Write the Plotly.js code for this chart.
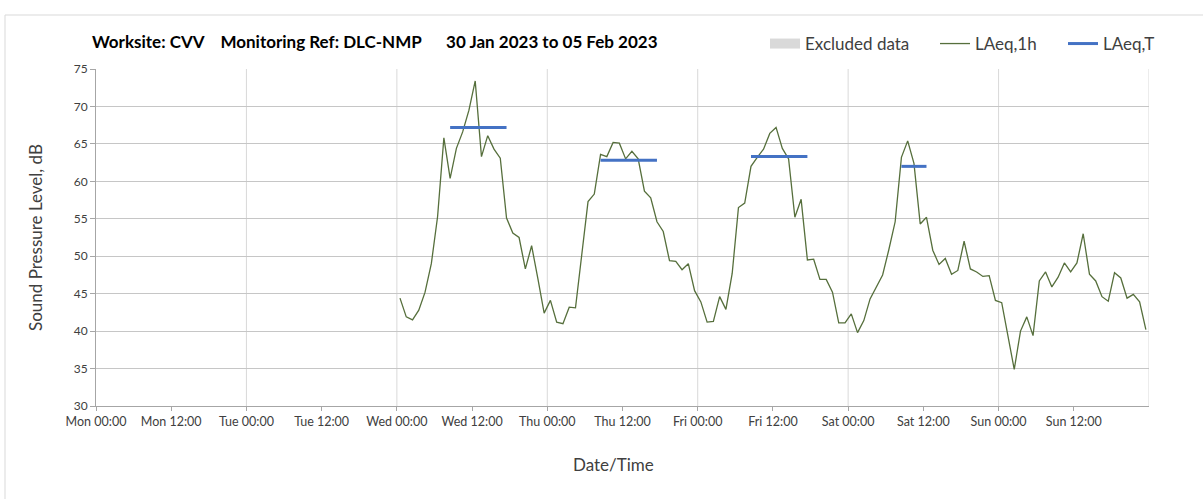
<!DOCTYPE html>
<html>
<head>
<meta charset="utf-8">
<script src="https://cdn.plot.ly/plotly-3.0.1.min.js"></script>
<style>
html,body{margin:0;padding:0;background:#fff;}
#chart{width:1203px;height:499px;}
</style>
</head>
<body>
<div id="chart"></div>
<script>
// ---- data ----
// hourly LAeq,1h values, first value at Wed 01 Feb 2023 00:30, one per hour
const firstHour = '2023-02-01T00:30:00Z';
const laeq1h = [
  44.4, 41.9, 41.5, 42.8, 45.2, 49.0, 55.3, 65.8, 60.4, 64.4,
  66.6, 69.5, 73.4, 63.3, 66.1, 64.3, 63.1, 55.1, 53.1, 52.5,
  48.3, 51.4, 47.0, 42.4, 44.1, 41.2, 41.0, 43.2, 43.1, 50.5,
  57.3, 58.3, 63.6, 63.3, 65.2, 65.1, 63.0, 64.0, 63.0, 58.7,
  57.8, 54.6, 53.3, 49.4, 49.3, 48.2, 49.0, 45.4, 43.9, 41.2,
  41.3, 44.6, 42.9, 47.7, 56.5, 57.1, 62.0, 63.2, 64.3, 66.4,
  67.2, 64.4, 63.0, 55.2, 57.6, 49.5, 49.6, 46.9, 46.9, 45.2,
  41.1, 41.1, 42.3, 39.8, 41.4, 44.3, 45.8, 47.5, 50.9, 54.6,
  63.2, 65.4, 62.4, 54.3, 55.2, 50.8, 48.9, 49.7, 47.6, 48.1,
  52.0, 48.3, 47.9, 47.3, 47.4, 44.1, 43.8, 39.2, 34.9, 40.0,
  41.9, 39.4, 46.7, 47.9, 45.9, 47.2, 49.1, 47.9, 49.1, 53.0,
  47.6, 46.7, 44.6, 44.0, 47.8, 47.1, 44.4, 44.9, 43.9, 40.2
];
// LAeq,T periods
const laeqTStart = ['2023-02-01 08:30', '2023-02-02 08:30', '2023-02-03 08:30', '2023-02-04 08:30'];
const laeqTEnd   = ['2023-02-01 17:30', '2023-02-02 17:30', '2023-02-03 17:30', '2023-02-04 12:30'];
const laeqTValue = [67.2, 62.8, 63.3, 62.0];
// excluded data (no excluded values in this period -> empty/null level)
const excludedX = ['2023-01-30 00:00'];
const excludedY = [null];
// axis
const weekStart = '2023-01-30 00:00';
const weekEnd = '2023-02-06 00:00';
const xTickVals = [
  '2023-01-30 00:00', '2023-01-30 12:00', '2023-01-31 00:00', '2023-01-31 12:00',
  '2023-02-01 00:00', '2023-02-01 12:00', '2023-02-02 00:00', '2023-02-02 12:00',
  '2023-02-03 00:00', '2023-02-03 12:00', '2023-02-04 00:00', '2023-02-04 12:00',
  '2023-02-05 00:00', '2023-02-05 12:00'
];
const dayBoundaries = ['2023-01-31', '2023-02-01', '2023-02-02', '2023-02-03', '2023-02-04', '2023-02-05', '2023-02-06'];
const yTickVals = [30, 35, 40, 45, 50, 55, 60, 65, 70, 75];

const titleText = 'Worksite: CVV\u00a0\u00a0\u00a0 Monitoring Ref: DLC-NMP\u00a0\u00a0\u00a0\u00a0\u00a0 30 Jan 2023 to 05 Feb 2023';

// ---- build ----
const t0 = Date.parse(firstHour);
const hourTimes = laeq1h.map((v, i) =>
  new Date(t0 + i * 3600000).toISOString().slice(0, 16).replace('T', ' '));

const tx = [], ty = [];
laeqTStart.forEach((s, i) => {
  tx.push(s, laeqTEnd[i], null);
  ty.push(laeqTValue[i], laeqTValue[i], null);
});

const FONT = 'Lato, "Open Sans", sans-serif';
const W = 1203, H = 499;

const traces = [
  {
    type: 'scatter', mode: 'lines', name: 'Excluded data', x: excludedX, y: excludedY,
    line: {color: '#d9d9d9', width: 10}, legend: 'legend', showlegend: true, hoverinfo: 'skip'
  },
  {
    type: 'scatter', mode: 'lines', name: 'LAeq,1h', x: hourTimes, y: laeq1h,
    line: {color: '#566f3c', width: 1.3}, legend: 'legend2'
  },
  {
    type: 'scatter', mode: 'lines', name: 'LAeq,T', x: tx, y: ty,
    line: {color: '#4472c4', width: 3}, legend: 'legend3', connectgaps: false
  }
];

const shapes = dayBoundaries.map(d => ({
  type: 'line', xref: 'x', yref: 'paper', x0: d, x1: d, y0: 0, y1: 1,
  line: {color: '#d9d9d9', width: 1}, layer: 'below'
}));
// outer chart frame
shapes.push({
  type: 'rect', xref: 'paper', yref: 'paper',
  x0: (5 - 96) / 1053, x1: 1.08, y0: -0.4, y1: (406 - 15) / 337,
  line: {color: '#d9d9d9', width: 1}, fillcolor: 'rgba(0,0,0,0)', layer: 'below'
});

const legendBase = {
  orientation: 'h', xref: 'container', yref: 'container',
  yanchor: 'middle', y: 1 - 44 / H, xanchor: 'left',
  font: {family: FONT, size: 17, color: '#404040'},
  bgcolor: 'rgba(0,0,0,0)', borderwidth: 0, itemclick: false
};

const layout = {
  width: W, height: H,
  margin: {l: 96, r: 54, t: 69, b: 93},
  paper_bgcolor: '#ffffff', plot_bgcolor: '#ffffff',
  font: {family: FONT, color: '#404040'},
  title: {
    text: '<b>' + titleText + '</b>',
    font: {family: FONT, size: 17, color: '#000000'},
    xref: 'container', yref: 'container', x: 92 / W, xanchor: 'left',
    y: 1 - 42 / H, yanchor: 'middle'
  },
  showlegend: true,
  legend: Object.assign({}, legendBase, {x: 765 / W}),
  legend2: Object.assign({}, legendBase, {x: 935 / W}),
  legend3: Object.assign({}, legendBase, {x: 1063 / W}),
  xaxis: {
    type: 'date', range: [weekStart, weekEnd],
    tickmode: 'array', tickvals: xTickVals, tickformat: '%a %H:%M',
    showgrid: false, zeroline: false,
    showline: true, linecolor: '#a6a6a6', linewidth: 1,
    ticks: 'outside', ticklen: 4, tickcolor: '#a6a6a6',
    tickfont: {family: FONT, size: 12.5, color: '#404040'}
  },
  yaxis: {
    range: [30, 75], tickmode: 'array', tickvals: yTickVals,
    showgrid: true, gridcolor: '#c6c6c6', gridwidth: 1, zeroline: false,
    showline: true, linecolor: '#a6a6a6', linewidth: 1,
    ticks: 'outside', ticklen: 5, tickcolor: '#a6a6a6',
    tickfont: {family: FONT, size: 12, color: '#404040'},
    title: {text: 'Sound Pressure Level, dB', font: {family: FONT, size: 17, color: '#404040'}, standoff: 26}
  },
  annotations: [{
    text: 'Date/Time', xref: 'paper', yref: 'paper',
    x: (613 - 96) / 1053, xanchor: 'center', y: (406 - 464) / 337, yanchor: 'middle',
    showarrow: false, font: {family: FONT, size: 17, color: '#404040'}
  }],
  shapes: shapes
};

Plotly.newPlot('chart', traces, layout, {displayModeBar: false, staticPlot: true});
</script>
</body>
</html>
